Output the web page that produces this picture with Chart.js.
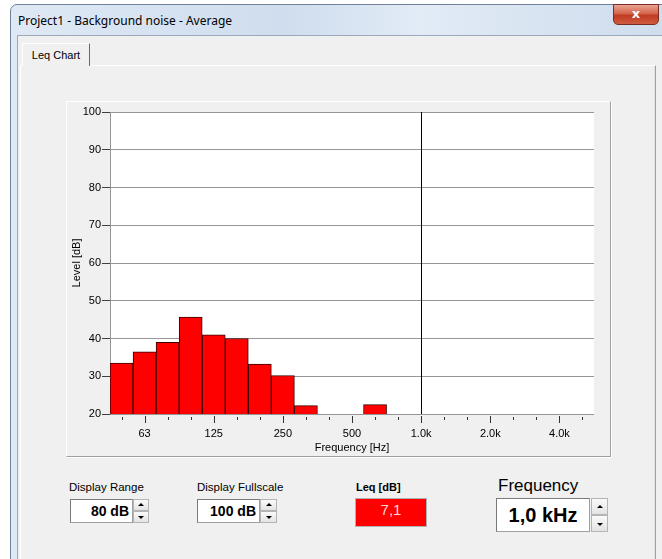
<!DOCTYPE html>
<html>
<head>
<meta charset="utf-8">
<script src="https://cdn.jsdelivr.net/npm/chart.js@4/dist/chart.umd.min.js"></script>
<style>
  body { margin: 0; width: 662px; height: 559px; overflow: hidden; position: relative; background: #fff; font-family: "Liberation Sans", Arial, sans-serif; }
  .abs { position: absolute; }
  .win { left: 10px; top: 4px; width: 680px; height: 600px; border: 1px solid #6f8299; border-radius: 7px 7px 0 0;
         background: linear-gradient(90deg, #dfe9f5 0%, #cfddee 40%, #e2ebf6 60%, #cddbec 100%); }
  .title { left: 18px; top: 12px; font: 12px "Noto Sans", sans-serif; color: #000; }
  .close { left: 613px; top: 4px; width: 44px; height: 19px; border: 1px solid #7a2c22; border-radius: 0 0 5px 5px;
           background: linear-gradient(#eaa493, #d4644c 45%, #c13a22 55%, #cf5b40); color: #fff; font: bold 13px "DejaVu Sans", sans-serif; text-align: center; line-height: 18px; }
  .client { left: 17px; top: 35px; width: 660px; height: 540px; background: #f0f0f0; border-top: 1px solid #9aaabd; border-left: 1px solid #9aaabd; }
  .page { left: 20px; top: 65px; width: 634px; height: 520px; border-top: 1px solid #fff; border-left: 1px solid #fff; border-right: 1px solid #a0a0a0; box-shadow: inset -1px 0 0 #e3e3e3; }
  .tab { left: 22px; top: 43px; width: 66px; height: 22px; border-top: 1px solid #fff; border-left: 1px solid #fff; border-right: 1px solid #696969; background: #f0f0f0; font-size: 11px; line-height: 22px; text-align: center; color: #000; }
  .panel { left: 66px; top: 101px; width: 543px; height: 354px; border: 1px solid #a0a0a0; border-top-color: #fff; border-left-color: #fff; background: #f0f0f0; box-shadow: 1px 1px 0 #fff; }
  #wrap { left: 66px; top: 101px; width: 544px; height: 355px; }
  .lbl { font-size: 11.5px; color: #000; }
  .box { background: #fff; border: 1px solid #a0a0a0; border-top-color: #7a7a7a; border-left-color: #7a7a7a; box-sizing: border-box; text-align: right; font-weight: bold; color: #000; }
  .spin { box-sizing: border-box; }
  .spin div { position: absolute; left: 0; width: 100%; box-sizing: border-box; border: 1px solid #b5b5b5; background: linear-gradient(#fafafa, #e3e3e3); }
  .spin .up { top: 0; height: 50%; }
  .spin .dn { bottom: 0; height: 50%; }
  .spin .up::after, .spin .dn::after { content: ""; position: absolute; left: 50%; top: 50%; margin-left: -3px; border-left: 3px solid transparent; border-right: 3px solid transparent; }
  .spin .up::after { margin-top: -2px; border-bottom: 3px solid #000; }
  .spin .dn::after { margin-top: -1px; border-top: 3px solid #000; }
</style>
</head>
<body>
<div class="abs win"></div>
<div class="abs title">Project1 - Background noise - Average</div>
<div class="abs close">x</div>
<div class="abs client"></div>
<div class="abs page"></div>
<div class="abs tab">Leq Chart</div>
<div class="abs panel"></div>
<div class="abs" id="wrap"><canvas id="leqChart" width="544" height="355"></canvas></div>

<div class="abs lbl" style="left:69px;top:481px;">Display Range</div>
<div class="abs box" style="left:70px;top:499px;width:63px;height:24px;font-size:14px;line-height:22px;padding-right:3px;">80 dB</div>
<div class="abs spin" style="left:133px;top:499px;width:16px;height:24px;"><div class="up"></div><div class="dn"></div></div>

<div class="abs lbl" style="left:197px;top:481px;">Display Fullscale</div>
<div class="abs box" style="left:197px;top:499px;width:63px;height:24px;font-size:14px;line-height:22px;padding-right:3px;">100 dB</div>
<div class="abs spin" style="left:260px;top:499px;width:17px;height:24px;"><div class="up"></div><div class="dn"></div></div>

<div class="abs" style="left:356px;top:481px;font-size:11px;font-weight:bold;color:#000;">Leq [dB]</div>
<div class="abs" style="left:355px;top:498px;width:72px;height:29px;box-sizing:border-box;background:#ff0000;border:1px solid #b0b0b0;color:#ffd6d6;font-size:15px;text-align:center;line-height:22px;">7,1</div>

<div class="abs" style="left:498px;top:476px;font-size:17px;color:#000;">Frequency</div>
<div class="abs box" style="left:496px;top:498px;width:94px;height:34px;font-size:20px;line-height:32px;text-align:center;">1,0 kHz</div>
<div class="abs spin" style="left:591px;top:498px;width:17px;height:34px;"><div class="up"></div><div class="dn"></div></div>

<script>
// 1/3 octave bands shown on the x axis
const bands = ['50', '63', '80', '100', '125', '160', '200', '250', '315', '400', '500',
  '630', '800', '1.0k', '1.25k', '1.6k', '2.0k', '2.5k', '3.15k', '4.0k', '5.0k'];
// Leq per band in dB (null = below the 20 dB floor)
const levels = [33.5, 36.5, 39.0, 45.7, 41.0, 40.0, 33.2, 30.2, 22.2, null, null,
  22.5, null, null, null, null, null, null, null, null, null];
const labelledBands = ['63', '125', '250', '500', '1.0k', '2.0k', '4.0k'];
const levelTicks = [20, 30, 40, 50, 60, 70, 80, 90, 100];
const cursorBand = '1.0k';

const tickFont = { family: 'Liberation Sans', size: 11 };

// white plot background, octave tick marks and the frequency cursor
const leqDecor = {
  id: 'leqDecor',
  beforeDraw(chart) {
    const a = chart.chartArea, c = chart.ctx;
    c.save();
    c.fillStyle = '#fff';
    c.fillRect(a.left, a.top, a.right - a.left, a.bottom - a.top);
    c.restore();
  },
  afterDatasetsDraw(chart) {
    const a = chart.chartArea, c = chart.ctx, x = chart.scales.x;
    c.save();
    c.strokeStyle = '#000';
    c.lineWidth = 1;
    const cx = Math.round(x.getPixelForValue(bands.indexOf(cursorBand))) + 0.5;
    c.beginPath();
    c.moveTo(cx, a.top);
    c.lineTo(cx, a.bottom);
    c.stroke();
    c.strokeStyle = '#333';
    bands.forEach((b, i) => {
      const px = Math.round(x.getPixelForValue(i)) + 0.5;
      const major = labelledBands.includes(b);
      c.beginPath();
      c.moveTo(px, a.bottom + (major ? 2 : 3));
      c.lineTo(px, a.bottom + (major ? 9 : 6));
      c.stroke();
    });
    c.restore();
  }
};

new Chart(document.getElementById('leqChart'), {
  type: 'bar',
  data: {
    labels: bands,
    datasets: [{
      data: levels,
      backgroundColor: '#ff0000',
      borderColor: '#3a0000',
      borderWidth: 1,
      barPercentage: 1,
      categoryPercentage: 1
    }]
  },
  options: {
    responsive: false,
    animation: false,
    layout: { padding: { top: 11, right: 16, left: 0, bottom: 0 } },
    plugins: { legend: { display: false }, tooltip: { enabled: false } },
    scales: {
      x: {
        grid: { display: true, drawOnChartArea: false, color: 'transparent', tickLength: 11 },
        border: { display: false },
        ticks: {
          autoSkip: false, maxRotation: 0, padding: 2, color: '#000', font: tickFont,
          callback: (v, i) => labelledBands.includes(bands[i]) ? bands[i] : ''
        },
        title: { display: true, text: 'Frequency [Hz]', color: '#000', font: tickFont, padding: { top: 0, bottom: 1 } },
        afterFit: s => { s.height = 42; }
      },
      y: {
        min: 20, max: 100,
        afterBuildTicks: s => { s.ticks = levelTicks.map(v => ({ value: v })); },
        grid: { color: '#969696', tickColor: '#404040', tickLength: 8 },
        border: { color: '#969696' },
        ticks: { padding: 1, color: '#000', font: tickFont },
        title: { display: true, text: 'Level [dB]', color: '#000', font: tickFont, padding: { top: 4, bottom: 0 } },
        afterFit: s => { s.width = 44; }
      }
    }
  },
  plugins: [leqDecor]
});
</script>
</body>
</html>
